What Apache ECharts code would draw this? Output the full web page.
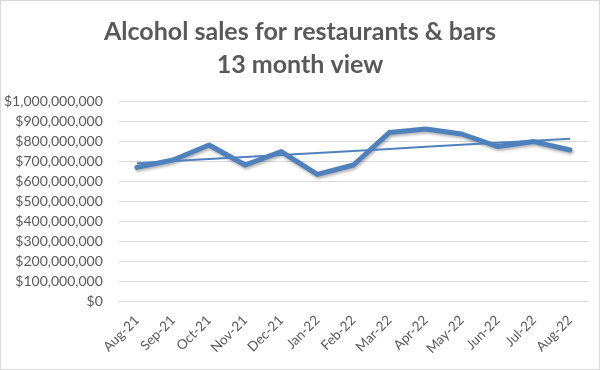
<!DOCTYPE html>
<html>
<head>
<meta charset="utf-8">
<script src="https://cdn.jsdelivr.net/npm/echarts@6/dist/echarts.min.js"></script>
<style>
html,body{margin:0;padding:0;background:#fff;}
#chart{width:600px;height:370px;box-sizing:border-box;border:1px solid #d9d9d9;}
</style>
</head>
<body>
<div id="chart"></div>
<script>
var titleText = "Alcohol sales for restaurants & bars\n13 month view";
var categories = ["Aug-21","Sep-21","Oct-21","Nov-21","Dec-21","Jan-22","Feb-22","Mar-22","Apr-22","May-22","Jun-22","Jul-22","Aug-22"];
var sales = [668000000, 705000000, 780000000, 680000000, 747000000, 633000000, 680000000, 843000000, 860000000, 835000000, 772000000, 797000000, 755000000];
var yTicks = [0, 100000000, 200000000, 300000000, 400000000, 500000000, 600000000, 700000000, 800000000, 900000000, 1000000000];

// Linear trendline (least squares) derived from the sales values
var n = sales.length, sx = 0, sy = 0, sxy = 0, sxx = 0;
for (var i = 0; i < n; i++) { sx += i; sy += sales[i]; sxy += i * sales[i]; sxx += i * i; }
var slope = (n * sxy - sx * sy) / (n * sxx - sx * sx);
var intercept = (sy - slope * sx) / n;
var trend = sales.map(function (_, i) { return intercept + slope * i; });

function fmt(v) {
  return "$" + Math.round(v).toString().replace(/\B(?=(\d{3})+(?!\d))/g, ",");
}

var chart = echarts.init(document.getElementById('chart'), null, {renderer: 'canvas'});
chart.setOption({
  animation: false,
  title: {
    text: titleText,
    left: 'center',
    top: 9,
    textStyle: {
      fontFamily: 'Lato',
      fontWeight: 'bold',
      fontSize: 25,
      color: '#595959',
      lineHeight: 33
    }
  },
  grid: { left: 114, right: 11, top: 100, bottom: 68 },
  xAxis: {
    type: 'category',
    data: categories,
    boundaryGap: true,
    axisLine: { show: true, lineStyle: { color: '#d9d9d9', width: 1 } },
    axisTick: { show: false },
    axisLabel: {
      rotate: 45,
      interval: 0,
      margin: 17,
      fontFamily: 'Lato',
      fontSize: 13.5,
      color: '#595959'
    }
  },
  yAxis: {
    type: 'value',
    min: yTicks[0],
    max: yTicks[yTicks.length - 1],
    interval: yTicks[1] - yTicks[0],
    axisLine: { show: false },
    axisTick: { show: false },
    splitLine: { lineStyle: { color: '#d9d9d9', width: 1 } },
    axisLabel: {
      formatter: fmt,
      margin: 16,
      fontFamily: 'Lato',
      fontSize: 14,
      color: '#595959'
    }
  },
  series: [
    {
      type: 'line',
      data: sales,
      symbol: 'none',
      lineStyle: {
        color: '#4f81bd', width: 5, join: 'round', cap: 'round',
        shadowColor: 'rgba(0,0,0,0.3)', shadowBlur: 3, shadowOffsetY: 2, shadowOffsetX: 1
      },
      z: 3
    },
    {
      type: 'line',
      data: trend,
      symbol: 'none',
      lineStyle: { color: '#4f81bd', width: 2 },
      z: 4
    }
  ]
});
</script>
</body>
</html>
